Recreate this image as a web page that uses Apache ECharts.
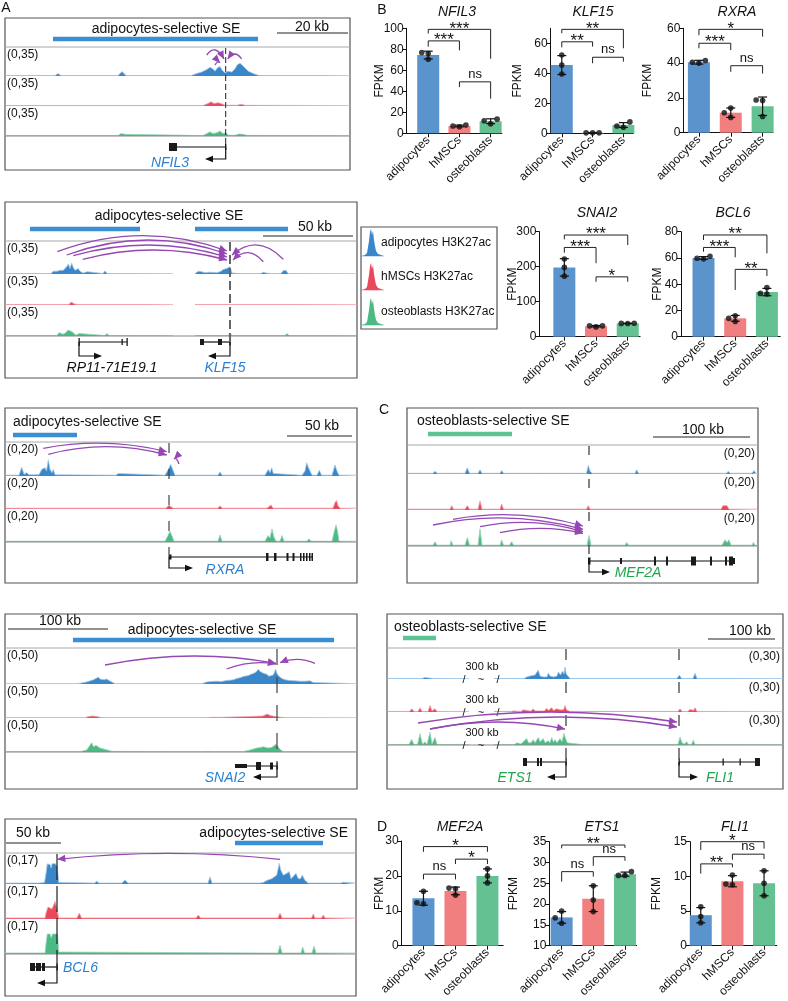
<!DOCTYPE html>
<html><head><meta charset="utf-8">
<script src="https://cdn.jsdelivr.net/npm/echarts@6.0.0/dist/echarts.min.js"></script>
<style>html,body{margin:0;padding:0;background:#fff}#c{width:788px;height:1001px}</style>
</head><body><div id="c"></div><script>
const FONT = '"Liberation Sans", Arial, Helvetica, sans-serif';
const CATS = ['adipocytes', 'hMSCs', 'osteoblasts'];
const BAR_COLORS = ['#5b93cd', '#f27f80', '#64c192'];

// ---------- bar chart data (FPKM) ----------
const NFIL3_MEAN = [74.5, 7, 11.5], NFIL3_SD = [3.7, 0.8, 2.3];
const NFIL3_DOTS = [[70.5, 76, 77], [6.2, 7, 7.8], [9, 12, 13.5]];
const NFIL3_SIG = [[0, 1, 88, 82.5, 79, '***'], [0, 2, 99, 95, 71, '***'], [1, 2, 49, 44, 33, 'ns']];
const NFIL3_TICKS = [0, 20, 40, 60, 80, 100];

const KLF15_MEAN = [45.5, 0.3, 5.5], KLF15_SD = [6.3, 0.1, 1.6];
const KLF15_DOTS = [[39.5, 45.5, 52.2], [0.3, 0.3, 0.3], [4, 4.9, 7.6]];
const KLF15_SIG = [[0, 1, 61, 57.3, 57.8, '**'], [0, 2, 69.3, 66.7, 56.7, '**'], [1, 2, 50.7, 46.7, 47.8, 'ns']];
const KLF15_TICKS = [0, 20, 40, 60];

const RXRA_MEAN = [40.5, 11.5, 15.2], RXRA_SD = [1.1, 2.7, 5.3];
const RXRA_DOTS = [[40, 40.5, 41.5], [8.8, 11.5, 14.2], [9.3, 18.5, 18.8]];
const RXRA_SIG = [[0, 1, 51.4, 48.5, 47.5, '***'], [0, 2, 59.4, 56, 55.2, '*'], [1, 2, 38.5, 35, 34, 'ns']];
const RXRA_TICKS = [0, 20, 40, 60];

const SNAI2_MEAN = [198, 30, 38], SNAI2_SD = [25, 2, 0.6];
const SNAI2_DOTS = [[173, 198, 222], [28, 31, 31], [37.8, 38, 38.4]];
const SNAI2_SIG = [[0, 1, 255, 240, 210, '***'], [0, 2, 290.5, 278, 262, '***'], [1, 2, 171, 157, 157, '*']];
const SNAI2_TICKS = [0, 100, 200, 300];

const BCL6_MEAN = [60, 14, 34], BCL6_SD = [1, 2.2, 2.8];
const BCL6_DOTS = [[59.3, 59.8, 61.3], [11.6, 14, 16], [32.5, 33, 37.5]];
const BCL6_SIG = [[0, 1, 68, 64.8, 60.5, '***'], [0, 2, 77.5, 73.7, 63.5, '**'], [1, 2, 51.3, 35.6, 46.2, '**']];
const BCL6_TICKS = [0, 20, 40, 60, 80];

const MEF2A_MEAN = [13.6, 15.7, 20], MEF2A_SD = [2, 1.1, 2];
const MEF2A_DOTS = [[12, 12.3, 15.6], [14.5, 16.3, 16.5], [18, 20, 22]];
const MEF2A_SIG = [[0, 1, 20.5, 19, 19, 'ns'], [1, 2, 24.8, 23.4, 23.4, '*'], [0, 2, 28.4, 26.9, 26.9, '*']];
const MEF2A_TICKS = [0, 10, 20, 30];

const ETS1_MEAN = [16.8, 21.3, 27.2], ETS1_SD = [1.4, 3.1, 0.5];
const ETS1_DOTS = [[15.4, 16.7, 18.3], [18.2, 21, 24.4], [26.9, 26.9, 27.8]];
const ETS1_SIG = [[0, 1, 27.8, 25.4, 26.6, 'ns'], [1, 2, 31.4, 29.2, 30.4, 'ns'], [0, 2, 34.2, 33.4, 33.5, '**']];
const ETS1_TICKS = [10, 15, 20, 25, 30, 35];

const FLI1_MEAN = [4.4, 9.3, 9], FLI1_SD = [1.1, 0.8, 1.8];
const FLI1_DOTS = [[3.3, 4.2, 5.6], [8.8, 8.9, 10.2], [7.2, 9, 10.8]];
const FLI1_SIG = [[0, 1, 11.8, 10.4, 11.3, '**'], [1, 2, 13.2, 12.4, 12.5, 'ns'], [0, 2, 15, 13.8, 14, '*']];
const FLI1_TICKS = [0, 5, 10, 15];

// ---------- H3K27ac signal tracks [position, signal] ----------
const A1_BLUE = [[0,0.5],[50,0.5],[53,3],[56,0.5],[113,0.5],[117,5.5],[121,0.5],[186,0.5],[191.7,3],[196.7,5],[201.7,8],[205,11],[207.7,9],[210,6],[212.3,10],[215,12],[217.3,7],[220,4],[223.3,6],[226.7,5],[230,9],[232.3,14],[235,16],[237.7,13],[240,10],[243.3,6],[248.3,3],[253.3,0.8],[258,0.5],[276,0.5],[278,1.5],[280,0.5],[320,0.5],[322,1.2],[324,0.5],[345,0.5]];
const A1_RED = [[0,0.5],[115,0.5],[117,2.5],[119,0.5],[198,0.5],[203,3],[206,5],[209,3],[213,4],[216,3],[220,1],[232,0.8],[236,2],[240,0.8],[345,0.5]];
const A1_GREEN = [[0,0.5],[55,0.5],[57,1.2],[59,0.5],[113,0.5],[116,3],[118,5],[120,2],[122,0.5],[198,0.5],[202,3],[205,5],[208,3],[212,4],[215,6],[218,3],[221,4],[223,1],[230,0.8],[234,2.5],[238,2],[242,0.8],[300,0.5],[302,1],[304,0.5],[345,0.5]];

const A2_BLUE = [[0,0.5],[23,0.5],[25,1.5],[27,0.5],[46,0.5],[48.3,3],[50,5],[52,3],[53.3,1.5],[55,4],[57,2],[58.3,4],[60,2],[61.7,8],[63.3,11],[65,6],[66.7,12],[68.3,7],[70,4],[72,2.5],[73.3,6],[75,3],[78,1],[80,3],[82.3,2.5],[84,0.5],[98,0.5],[100,3.5],[102,0.5],[128,0.5],[130,1.5],[132,0.5],[168,0.5],[170,'-'],[188,'-'],[190,0.5],[193.3,3],[196.7,2.5],[200,1.5],[205,2],[212,1.5],[216,3],[218.3,5],[220,3],[221.7,6],[223,4],[225,8],[227,1],[235,0.5],[256,0.5],[258.3,2],[261,1],[266,0.5],[276,0.5],[278,3.5],[279.5,1.5],[281,4],[283,0.5],[352,0.5]];
const A2_RED = [[0,0.5],[54,0.5],[55,2.5],[57,0.5],[64,0.5],[66,3.5],[68,2],[70,1],[72,2],[74,0.5],[132,0.5],[134,2],[136,0.5],[168,0.5],[170,'-'],[188,'-'],[190,0.5],[224,0.5],[225.5,2],[227,0.5],[280,0.5],[282,1.5],[284,0.5],[352,0.5]];
const A2_GREEN = [[0,0.5],[52,0.5],[54,4],[56,6],[58,2],[61,4],[63,7],[65,9],[67,5],[69,3],[71,1],[74,3],[76,1],[100,0.5],[102,3],[104,0.5],[130,0.5],[132,2],[134,0.5],[168,0.5],[170,'-'],[188,'-'],[190,0.5],[223,0.5],[225,3],[227,0.5],[280,0.5],[282,3],[284,0.5],[352,0.5]];

const A3_BLUE = [[0,0.5],[14,0.5],[16.7,5.3],[19,1],[21.7,2],[24,0.7],[34,0.8],[36.7,4],[38.5,3],[40,5],[41.5,3],[43.3,9.8],[45,4],[47,2],[48.3,4],[50,0.7],[111,0.5],[113.3,1.5],[115,0.5],[160,0.5],[163.3,4],[165.7,7],[168.3,3],[170,0.5],[213,0.5],[215,2.5],[217,0.5],[260,0.5],[263.3,4],[265,2],[266.7,5],[268.3,1.5],[270,0.5],[297,0.5],[300,3],[301.7,8],[303.5,5],[305,3],[307,0.5],[312,0.5],[314.3,3.5],[316.5,0.5],[327,0.5],[330,6.7],[332,3],[334,0.5],[352,0.5]];
const A3_RED = [[0,0.5],[161,0.5],[164,2.3],[166,1.5],[168,0.5],[213,0.5],[215,2],[217,0.5],[262,0.5],[264,1.5],[266,2.5],[268,0.5],[276,0.5],[277.5,1.5],[279,0.5],[328,0.5],[330,4],[331.5,5.3],[333,2],[335,0.5],[352,0.5]];
const A3_GREEN = [[0,0.5],[160,0.5],[163,4],[165,6.7],[167.5,3],[169,0.5],[213,0.5],[215,4.3],[217,0.5],[260,0.5],[263,4],[265,2.5],[267,8.2],[269,3],[271,0.5],[275,0.5],[277,4],[279,0.5],[302,0.5],[304,2],[306,0.5],[327,0.5],[329,6],[331,10.6],[332.5,7],[334,0.5],[352,0.5]];

const A4_BLUE = [[0,0.5],[72,0.5],[75,1],[81.7,3],[88.3,6],[91,8],[93.3,10],[95,7],[96.7,8],[99,6],[101.7,7],[104,5],[106.7,3],[110,0.5],[195,0.5],[198.3,1],[201.7,3],[206,3.5],[211.7,4],[216,3.5],[221.7,5],[225,5.5],[228.3,6],[232,8],[235,9],[239,11],[243.3,12],[246,14],[248.3,15],[251,17],[253.3,21],[255,18],[256.7,17],[259,15],[261.7,14],[264,11],[265.7,10],[268.3,13],[270.7,21],[272,15],[273.3,12],[276.7,8],[280,6],[285,5],[290,4.5],[295,4],[300,4],[305,4.5],[308.3,2],[310,0.5],[352,0.5]];
const A4_RED = [[0,0.5],[80,0.5],[83,2],[87,3],[91,2.5],[95,1],[100,0.5],[200,0.5],[206,1],[215,1],[228,1.5],[240,2],[250,2.5],[258,3],[262,6],[266,3.5],[268,4],[272,2],[276,1],[282,0.5],[352,0.5]];
const A4_GREEN = [[0,0.5],[55,0.5],[57,1],[59,0.5],[75,0.5],[81.7,3],[86.7,14],[88.5,8],[91,10],[95,6],[100,4],[101.7,3],[106.7,1],[108,0.5],[200,0.5],[203,1],[206,0.5],[238,0.5],[245,3],[251.7,6],[256,7],[258.3,8],[263,6],[266.7,7],[270.7,11.6],[273,8],[275,4],[278.3,0.5],[305,0.5],[307,1],[309,0.5],[352,0.5]];

const A5_BLUE = [[0,0.5],[20,0.5],[21.7,1],[23.5,0.5],[30,0.5],[32,0.8],[34,0.5],[39.5,0.8],[41,6],[42.3,11.4],[45,11],[46.2,9],[47,11.4],[50,11.6],[52.3,10],[53.7,0.8],[89.5,0.5],[91.7,1.5],[94,0.5],[117,0.5],[120,2.2],[123,0.5],[203,0.5],[205,4],[207,0.5],[255,0.5],[258.3,0.8],[261.7,2],[266.7,3],[271.7,5],[274.3,11.7],[275.7,8],[278.3,5],[281.7,6],[284.3,7],[286,3],[287.7,4],[291,6],[293.3,3],[295.5,3],[297.3,5],[300,2],[303.3,0.5],[336,0.5],[338.3,1],[340,0.5],[351,0.5]];
const A5_RED = [[0,0.5],[40,0.5],[41,3],[43,6],[45,6.6],[47,5],[49,6],[50,8.8],[51.5,6],[53.7,0.5],[72,0.5],[74.3,3],[76.5,0.5],[191,0.5],[193.3,2],[195.5,0.5],[273,0.5],[275,3],[277,0.5],[283.5,0.5],[285,1.5],[286.5,0.5],[306.5,0.5],[308.3,2.5],[310,0.5],[316.5,0.5],[318.3,2],[320,0.5],[351,0.5]];
const A5_GREEN = [[0,0.5],[40,0.5],[41,5],[42.3,10],[45,10],[46.2,8],[47.5,10],[50,10],[52.5,10],[53.7,1],[55,0.5],[260,0.5],[262,1],[264,0.5],[273,0.5],[275,4.4],[277,0.5],[296,0.5],[297.7,3.5],[299.5,0.5],[307,0.5],[309,4],[311,0.5],[351,0.5]];

const C1_BLUE = [[0,0.5],[26,0.5],[28,2],[30,0.5],[43,0.5],[44.7,1],[46.5,0.5],[58,0.5],[60.3,4.4],[62.5,0.5],[71,0.5],[73,3],[75,0.5],[93,0.5],[94.7,2.5],[96.5,0.5],[104.5,0.5],[106.3,1],[108,0.5],[134.5,0.5],[136.3,1],[138,0.5],[153,0.5],[154.7,1],[156.5,0.5],[169.5,0.5],[171.3,1.5],[173,0.5],[179.5,0.5],[181.3,6.2],[183,2],[185,0.5],[218,0.5],[219.7,1.5],[221.5,0.5],[228,0.5],[229.7,3],[231.5,0.5],[251,0.5],[253,1],[255,0.5],[319.5,0.5],[321.3,2],[323,0.5],[345,0.5],[347,2.5],[349,0.5],[351,0.5]];
const C1_RED = [[0,0.5],[26,0.5],[28,1],[30,0.5],[43,0.5],[44.7,2.5],[46.5,0.5],[58,0.5],[60.3,2.5],[62.5,0.5],[71,0.5],[73,5.2],[75,0.5],[93,0.5],[94.7,3.5],[96.5,0.5],[104.5,0.5],[106.3,1],[108,0.5],[134.5,0.5],[136.3,1],[138,0.5],[179.5,0.5],[181.3,2.5],[183,0.5],[218,0.5],[219.7,1],[221.5,0.5],[228,0.5],[229.7,1.5],[231.5,0.5],[314,0.5],[316,2.5],[318,1.5],[320,2.5],[322,0.5],[351,0.5]];
const C1_GREEN = [[0,0.5],[26,0.5],[28,2.4],[30,0.5],[43,0.5],[44,3],[46,0.5],[58,0.5],[60.3,4.8],[62.5,0.5],[71,0.5],[73,9.8],[75,0.5],[93,0.5],[94.7,3.5],[96.5,0.5],[102.5,0.5],[104.7,2.5],[106.5,0.5],[151,0.5],[153,1],[155,0.5],[180,0.5],[182,6],[184,0.5],[218,0.5],[219.7,2],[221.5,0.5],[315,0.5],[318,3.5],[320,2],[322,3.5],[324,0.5],[345,0.5],[346.3,2],[348,0.5],[351,0.5]];

const C2_BLUE = [[0,0.5],[21,0.5],[23,1.5],[25,0.5],[31,0.5],[33,2],[35,0.5],[36,0.5],[38,1.5],[40,0.5],[46,0.5],[48,1],[50,0.5],[82,0.5],[83,'-'],[106,'-'],[107,0.5],[118,0.5],[120,1],[122,0.5],[128,0.5],[129.7,1.5],[131.5,0.5],[137,0.5],[139.7,2],[141,1],[143,3],[145,1.5],[148,4],[149.5,2],[151.3,9],[153,3],[154.7,5],[156.5,2],[158,4],[160,2],[161.3,6],[163,3],[164.7,5],[166.5,2],[168,4],[170,3],[171.3,7],[173.5,4],[175.7,8],[177,5],[178,12],[179.2,5],[180.3,3],[183,0.5],[195,0.5],[196.3,1],[198,0.5],[215,0.5],[216.3,1],[218,0.5],[248,0.5],[249.7,1],[251.5,0.5],[290,0.5],[292.3,4],[294.5,0.5],[299.5,0.5],[301.3,1.5],[303,0.5],[306,0.5],[308,5.8],[310,0.5],[314.5,0.5],[316.3,1],[318,0.5],[348,0.5],[349.7,1],[351.5,0.5],[396,0.5]];
const C2_RED = [[0,0.5],[22.5,0.5],[24.7,3],[27,0.5],[31,0.5],[33,4],[35,0.5],[41,0.5],[43,6],[45,1],[48,3],[50,0.5],[82,0.5],[83,'-'],[106,'-'],[107,0.5],[124,0.5],[126.3,1],[128,0.5],[134,0.5],[136.3,2],[138,0.7],[144,0.8],[146.3,3],[148,1],[151,1],[153,2.5],[155,1],[157.5,1],[159.7,3.5],[161.5,1.5],[163,2],[164.7,4],[166.5,1.5],[168,2],[169.7,3],[171.5,1.5],[173,2],[174.7,3.5],[176.5,2],[178,6],[179.5,2],[181.3,1],[183,0.5],[291,0.5],[293,3],[295,0.5],[301,0.5],[303,2.5],[305,1],[306.5,1.5],[308,4],[310,0.5],[396,0.5]];
const C2_GREEN = [[0,0.5],[22,0.5],[24.7,5.2],[27,0.5],[30.5,0.5],[33,10.6],[35.5,0.5],[36,0.5],[38,3],[40,0.5],[41,0.5],[43,12],[45,1],[46.5,1],[48,7],[50,0.5],[69.5,0.5],[71.3,1],[73,0.5],[82,0.5],[83,'-'],[106,'-'],[107,0.5],[127.5,0.5],[129.7,2],[131.5,0.5],[134,1],[136.3,3],[138,1.5],[139.7,6],[141.5,2],[144,2],[146.3,5],[148,2],[149.5,2],[151.3,7],[153,3],[154.5,3],[156.3,6],[158,2],[159.5,2],[161.3,4],[163,2],[164.7,7],[166.5,2.5],[168,5],[170,2],[171.5,3],[173,6],[175,3],[177,11],[178.5,6],[180.3,2],[182,0.5],[194.5,0.5],[196.3,1],[198,0.5],[248,0.5],[249.7,2],[251.5,0.5],[291,0.5],[293,7.5],[295,2],[297.5,1],[299.7,3],[301.5,0.5],[304.5,0.5],[306.3,4.5],[308,0.5],[314.5,0.5],[316.3,1],[318,0.5],[396,0.5]];

// super-enhancer regions, scale bars, genes, loops (positions along each locus)
const SE_REGIONS = {A1:[[48,253]], A2:[[25,135],[190,283]], A3:[[8,72]], A4:[[68,329]], A5:[[230,318]], C1:[[21,105]], C2:[[16,49]]};
const SCALE_BARS = {A1:[272,343,'20 kb'], A2:[258,348,'50 kb'], A3:[282,347,'50 kb'], A4:[3,103,'100 kb'], A5:[1,56,'50 kb'], C1:[246,343,'100 kb'], C2:[321,388,'100 kb']};
const TRACK_MAX = {A1:35, A2:35, A3:20, A4:50, A5:17, C1:20, C2:30};
const GENES = [
 {panel:'A1', name:'NFIL3', c:'blue', tss:220.7, end:167, exons:[[164,172,8],[220,221.4,6]], arrowTo:200, text:165},
 {panel:'A2', name:'KLF15', c:'blue', tss:225, end:195, exons:[[195,199,6],[213,217,6],[224.3,225.7,7]], arrowTo:203, text:220},
 {panel:'A2', name:'RP11-71E19.1', c:'black', tss:74, end:122, exons:[[73.5,74.5,8],[116.5,117.5,6],[121.5,122.5,8]], arrowTo:97, text:107, noLine:true},
 {panel:'A3', name:'RXRA', c:'blue', tss:164, end:308, exons:[[164,166.5,5],[261,263.5,8],[269,271.5,8],[281.5,283.5,8],[287.5,289.5,8],[295,296.5,8],[298,299.5,8],[301,302.5,8],[304,305.5,8],[306.5,308,8]], arrowTo:188, text:220},
 {panel:'A4', name:'SNAI2', c:'blue', tss:272, end:230, exons:[[230,242,4],[251,256,8],[265,268,7],[271.5,272.5,7]], arrowTo:248, text:220},
 {panel:'A5', name:'BCL6', c:'blue', tss:52, end:25, exons:[[25,30,8],[31,36,8],[37,40,8],[51.5,52.5,7]], arrowTo:32, text:58, align:'left'},
 {panel:'C1', name:'MEF2A', c:'green', tss:182, end:328, exons:[[181,183.5,7],[213,215,6],[247,249,9],[259,261,9],[284,289,9],[303,305,9],[318,320,9],[322,326,9],[326,328,6]], arrowTo:203, text:231},
 {panel:'C2', name:'ETS1', c:'green', tss:179, end:136, exons:[[136,140,8],[150,152,8],[153,155,8],[178.5,179.5,7]], arrowTo:160, text:128},
 {panel:'C2', name:'FLI1', c:'green', tss:292, end:373, exons:[[291.5,292.5,7],[335.5,336.5,7],[352.5,353.5,7],[368,373,8]], arrowTo:311, text:333}
];
// loops: [from, to, yFrom, yTo, apex] (y relative to the header line)
const LOOPS = {
 A1:[[201.7,219,8,12,3],[236.7,222.7,12,12,7],[210,215,18,15.7,15]],
 A2:[[52.3,222,10.7,10,-5.3],[61.7,222,14,13,-1],[68.3,222,14.7,16,4],[77.7,222,18.3,19,9],[278.3,227,18.3,14,4],[258.3,228,20.7,19,11.7]],
 A3:[[38.3,161.7,6.3,9.7,1.3],[43.3,161.7,12.3,13,4.7],[174,169,22,17,17]],
 A4:[[100,271,17,15.3,8],[221.7,271,21,16,15],[310,275,15.3,14.7,11.3]],
 A5:[[275,52.3,6.3,6.3,0.3]],
 C1:[[46,176,74.3,81,70],[26,176,80,84.3,73],[73,176,81.7,86.7,77.7],[93,176,87.7,88.3,83.3]],
 C2:[[31,290,75,74,64],[43,290,81,79,69],[43,178,81,81,74]]
};

// ---------- layout / styles ----------
const TRACK_COL = {blue:'#3987c9', red:'#e9495b', green:'#4cba84'};
const TRACK_LIGHT = {blue:'#9fc6ea', red:'#f2a0aa', green:'#9ad6b7'};
const GENE_COL = {blue:'#2b80d2', green:'#1fa64b', black:'#111'};
const PURPLE = '#9547b3';
const PANELS = {
 A1:{box:[5,18,350,170], header:47, tracks:[[47,76],[76,106],[106,136]], gene:[147,159,163], dash:[6,3], dashC:'#222', dashW:1, title:[166,29,'center'], seY:39, seC:'#3b8ed3', scY:33, scT:[312,27,'center'], data:[A1_BLUE,A1_RED,A1_GREEN]},
 A2:{box:[5,202,357,378], header:241, tracks:[[241,274],[274,305],[305,336]], gene:[342,356,368], dash:[9,4], dashC:'#666', dashW:2, title:[169,216,'center'], seY:229, seC:'#3b8ed3', scY:236, scT:[315,227,'center'], data:[A2_BLUE,A2_RED,A2_GREEN]},
 A3:{box:[5,408,357,583], header:442, tracks:[[442,476],[476,509],[509,542]], gene:[557,568,570], dash:[10,16], dashC:'#444', dashW:1.2, title:[13,422,'left'], seY:435, seC:'#3b8ed3', scY:436, scT:[322,426,'center'], data:[A3_BLUE,A3_RED,A3_GREEN]},
 A4:{box:[5,614,357,789], header:648, tracks:[[648,684],[684,718],[718,752]], gene:[766,777,778], dash:[16,12], dashC:'#444', dashW:1.2, title:[202,630,'center'], seY:640, seC:'#3b8ed3', scY:629, scT:[60,621,'center'], data:[A4_BLUE,A4_RED,A4_GREEN]},
 A5:{box:[5,819,356,996], header:853, tracks:[[853,884],[884,919],[919,954]], gene:[967,983,968], dash:[26,6], dashC:'#222', dashW:1.2, title:[348,833,'right'], seY:843, seC:'#3b8ed3', scY:843, scT:[33,833,'center'], data:[A5_BLUE,A5_RED,A5_GREEN]},
 C1:{box:[407,408,758,583], header:445, tracks:[[445,474],[474,510],[510,546]], gene:[561,572,573], dash:[9,24], dashC:'#333', dashW:1.2, title:[417,421,'left'], seY:434, seC:'#5cc493', scY:437, scT:[703,430,'center'], labelRight:true, data:[C1_BLUE,C1_RED,C1_GREEN]},
 C2:{box:[387,614,783,789], header:648, tracks:[[648,679],[679,712],[712,745]], gene:[762,777,778], dash:[11,22], dashC:'#333', dashW:1.2, title:[394,627,'left'], seY:638, seC:'#5cc493', scY:639, scT:[750,631,'center'], labelRight:true, breakAt:95, data:[C2_BLUE,C2_RED,C2_GREEN]}
};
const SE_TITLES = {A1:'adipocytes-selective SE', A2:'adipocytes-selective SE', A3:'adipocytes-selective SE', A4:'adipocytes-selective SE', A5:'adipocytes-selective SE', C1:'osteoblasts-selective SE', C2:'osteoblasts-selective SE'};

const BAR_CHARTS = [
 {g:'NFIL3', mean:NFIL3_MEAN, sd:NFIL3_SD, dots:NFIL3_DOTS, sig:NFIL3_SIG, yMin:0, yMax:100, ticks:NFIL3_TICKS, L:{left:406.7, top:28.3, height:105, sp:31.2, offs:0.69, tail:0.36, tx:457, ty:12, gap:21}},
 {g:'KLF15', mean:KLF15_MEAN, sd:KLF15_SD, dots:KLF15_DOTS, sig:KLF15_SIG, yMin:0, yMax:70, ticks:KLF15_TICKS, L:{left:550.7, top:28.3, height:105, sp:30.8, offs:0.36, tail:0.32, tx:593, ty:12, gap:27}},
 {g:'RXRA', mean:RXRA_MEAN, sd:RXRA_SD, dots:RXRA_DOTS, sig:RXRA_SIG, yMin:0, yMax:60, ticks:RXRA_TICKS, L:{left:683.3, top:28.3, height:104.4, sp:31.85, offs:0.49, tail:0.33, tx:737, ty:12, gap:30}},
 {g:'SNAI2', mean:SNAI2_MEAN, sd:SNAI2_SD, dots:SNAI2_DOTS, sig:SNAI2_SIG, yMin:0, yMax:300, ticks:SNAI2_TICKS, L:{left:539.3, top:231.7, height:105, sp:31.7, offs:0.79, tail:0.39, tx:597, ty:213, gap:21}},
 {g:'BCL6', mean:BCL6_MEAN, sd:BCL6_SD, dots:BCL6_DOTS, sig:BCL6_SIG, yMin:0, yMax:80, ticks:BCL6_TICKS, L:{left:681, top:231.7, height:105, sp:31.7, offs:0.71, tail:0.42, tx:733, ty:213, gap:17}},
 {g:'MEF2A', mean:MEF2A_MEAN, sd:MEF2A_SD, dots:MEF2A_DOTS, sig:MEF2A_SIG, yMin:0, yMax:30, ticks:MEF2A_TICKS, L:{left:401.7, top:841, height:104.7, sp:32, offs:0.68, tail:0.49, tx:460, ty:827, gap:16}},
 {g:'ETS1', mean:ETS1_MEAN, sd:ETS1_SD, dots:ETS1_DOTS, sig:ETS1_SIG, yMin:10, yMax:35, ticks:ETS1_TICKS, L:{left:549.3, top:841.7, height:104, sp:31.65, offs:0.39, tail:0.37, tx:602, ty:827, gap:30}},
 {g:'FLI1', mean:FLI1_MEAN, sd:FLI1_SD, dots:FLI1_DOTS, sig:FLI1_SIG, yMin:0, yMax:15, ticks:FLI1_TICKS, L:{left:690, top:841.7, height:104, sp:31.65, offs:0.34, tail:0.4, tx:735, ty:827, gap:27}}
];

const chart = echarts.init(document.getElementById('c'), null, {width:788, height:1001});
const grids = [], xAxes = [], yAxes = [], series = [];
const T = [];

function jitter(vals, ppu) {
  const d = 5.6, step = 6.5, placed = [], out = vals.map(() => 0);
  vals.map((v, i) => i).sort((a, b) => vals[a] - vals[b]).forEach(i => {
    for (const c of [0, -step, step, -2 * step, 2 * step]) {
      if (placed.every(p => Math.abs(p.x - c) >= d || Math.abs(p.y - vals[i]) * ppu >= d)) { out[i] = c; placed.push({x: c, y: vals[i]}); break; }
    }
  });
  return out;
}
function txt(t, x, y, font, fill, align, va, z) {
  return {type:'text', x, y, z: z || 15, style:{text:t, font, fill: fill || '#111', align: align || 'center', verticalAlign: va || 'middle'}};
}

BAR_CHARTS.forEach(bc => {
  const L = bc.L, xMax = L.offs + 2 + L.tail, gi = grids.length;
  const pos = i => L.offs + i, posVals = CATS.map((c, i) => pos(i));
  grids.push({left:L.left, top:L.top, width:xMax * L.sp, height:L.height});
  xAxes.push({gridIndex:gi, type:'value', min:0, max:xMax, splitLine:{show:false},
    axisLine:{show:true, onZero:false, lineStyle:{color:'#111', width:1}},
    axisTick:{show:true, customValues:posVals, length:4, lineStyle:{color:'#111'}},
    axisLabel:{customValues:posVals, rotate:45, margin:5, fontSize:12, fontFamily:FONT, color:'#111', formatter: v => CATS[Math.round(v - L.offs)]}});
  yAxes.push({gridIndex:gi, type:'value', min:bc.yMin, max:bc.yMax, name:'FPKM', nameLocation:'middle', nameGap:L.gap, nameMoveOverlap:false,
    nameTextStyle:{fontSize:12, fontFamily:FONT, color:'#111'}, splitLine:{show:false},
    axisLine:{show:true, onZero:false, lineStyle:{color:'#111', width:1}},
    axisTick:{show:true, customValues:bc.ticks, length:4, lineStyle:{color:'#111'}},
    axisLabel:{customValues:bc.ticks, fontSize:12, fontFamily:FONT, color:'#111', margin:3}});
  series.push({type:'bar', xAxisIndex:gi, yAxisIndex:gi, barWidth:22, silent:true,
    data: bc.mean.map((m, i) => ({value:[pos(i), m], itemStyle:{color:BAR_COLORS[i]}}))});
  series.push({type:'custom', xAxisIndex:gi, yAxisIndex:gi, clip:false, silent:true, z:4,
    data: bc.mean.map((m, i) => [pos(i), m - bc.sd[i], m + bc.sd[i]]),
    renderItem: (p, api) => {
      const lo = api.coord([api.value(0), api.value(1)]), hi = api.coord([api.value(0), api.value(2)]), w = 4.5;
      const st = {stroke:'#111', lineWidth:1.2};
      return {type:'group', children:[
        {type:'line', shape:{x1:lo[0], y1:lo[1], x2:hi[0], y2:hi[1]}, style:st},
        {type:'line', shape:{x1:lo[0]-w, y1:lo[1], x2:lo[0]+w, y2:lo[1]}, style:st},
        {type:'line', shape:{x1:hi[0]-w, y1:hi[1], x2:hi[0]+w, y2:hi[1]}, style:st}]};
    }});
  const ppu = L.height / (bc.yMax - bc.yMin), dotData = [];
  bc.dots.forEach((vals, i) => { const off = jitter(vals, ppu); vals.forEach((v, j) => dotData.push({value:[pos(i), v], symbolOffset:[off[j], 0]})); });
  series.push({type:'scatter', xAxisIndex:gi, yAxisIndex:gi, symbolSize:5.6, itemStyle:{color:'#111'}, z:6, silent:true, data:dotData});
  const labels = bc.sig.map(s => s[5]);
  series.push({type:'custom', xAxisIndex:gi, yAxisIndex:gi, clip:false, silent:true, z:5,
    data: bc.sig.map(s => [pos(s[0]), pos(s[1]), s[2], s[3], s[4]]),
    renderItem: (p, api) => {
      const x1 = api.value(0), x2 = api.value(1), t = api.value(2);
      const a = api.coord([x1, api.value(3)]), b = api.coord([x1, t]), c = api.coord([x2, t]), d = api.coord([x2, api.value(4)]);
      const lab = labels[p.dataIndex], star = lab.indexOf('*') >= 0;
      return {type:'group', children:[
        {type:'polyline', shape:{points:[a, b, c, d]}, style:{stroke:'#222', lineWidth:1, fill:null}},
        {type:'text', style:{text:lab, x:(b[0]+c[0])/2, y: star ? b[1] + 8 : b[1] - 1, align:'center', verticalAlign:'bottom',
          font: (star ? '17px ' : '13px ') + FONT, fill:'#111'}}]};
    }});
  T.push(txt(bc.g, L.tx, L.ty, 'italic 14px ' + FONT));
});

const cols = ['blue', 'red', 'green'];
Object.keys(PANELS).forEach(k => {
  const P = PANELS[k], b = P.box, W = b[2] - b[0];
  P.tracks.forEach((tr, ti) => {
    const gi = grids.length;
    if (ti === 0) P.axis = gi;
    grids.push({left:b[0], top:tr[0] + 1, width:W, height:tr[1] - tr[0] - 1});
    xAxes.push({gridIndex:gi, type:'value', min:0, max:W, show:false});
    yAxes.push({gridIndex:gi, type:'value', min:0, max:TRACK_MAX[k], show:false});
    series.push({type:'line', xAxisIndex:gi, yAxisIndex:gi, data:P.data[ti], symbol:'none', silent:true, connectNulls:false,
      lineStyle:{width:0.8, color:TRACK_LIGHT[cols[ti]]}, areaStyle:{color:TRACK_COL[cols[ti]], opacity:1}, z:3});
  });
});

chart.setOption({animation:false, textStyle:{fontFamily:FONT}, grid:grids, xAxis:xAxes, yAxis:yAxes, series});

const G = T.slice();
const px = (k, v) => chart.convertToPixel({xAxisIndex:PANELS[k].axis}, v);
const ln = (x1, y1, x2, y2, stroke, w, dash, z) => ({type:'line', z: z || 10, shape:{x1, y1, x2, y2}, style:{stroke, lineWidth:w || 1, lineDash:dash || null}});

Object.keys(PANELS).forEach(k => {
  const P = PANELS[k], b = P.box;
  G.push({type:'rect', z:1, shape:{x:b[0], y:b[1], width:b[2]-b[0], height:b[3]-b[1]}, style:{fill:'transparent', stroke:'#555', lineWidth:1.2}});
  G.push(ln(b[0], P.header, b[2], P.header, '#a8a8a8', 1, null, 1));
  G.push(ln(b[0], P.tracks[2][1], b[2], P.tracks[2][1], '#8a8a8a', 1.2, null, 4));
  G.push(txt(SE_TITLES[k], P.title[0], P.title[1], '14px ' + FONT, '#111', P.title[2]));
  SE_REGIONS[k].forEach(([s, e]) => { const a = px(k, s), c = px(k, e); G.push({type:'rect', z:5, shape:{x:a, y:P.seY - 2.2, width:c - a, height:4.4}, style:{fill:P.seC}}); });
  const sc = SCALE_BARS[k];
  G.push(ln(px(k, sc[0]), P.scY, px(k, sc[1]), P.scY, '#222', 1));
  G.push(txt(sc[2], P.scT[0], P.scT[1], '14px ' + FONT, '#111', P.scT[2]));
  P.tracks.forEach(tr => {
    const lab = '(0,' + TRACK_MAX[k] + ')';
    if (P.labelRight) G.push(txt(lab, b[2] - 3, tr[0] + 9, '12px ' + FONT, '#111', 'right'));
    else G.push(txt(lab, b[0] + 2, tr[0] + 8, '12px ' + FONT, '#111', 'left'));
    if (P.breakAt) {
      const bx = px(k, P.breakAt);
      G.push(txt('300 kb', bx, tr[1] - 12, '11px ' + FONT, '#111', 'center'));
      G.push(txt('/    ~    /', bx - 1, tr[1] + 1, '11px ' + FONT, '#111', 'center'));
    }
  });
  (LOOPS[k] || []).forEach(([x0, x1, y0, y1, ap]) => {
    const X0 = px(k, x0), X1 = px(k, x1), Y0 = P.header + y0, Y1 = P.header + y1, A = P.header + ap;
    const cx = (X0 + X1) / 2, cy = (4 * A - Y0 - Y1) / 2;
    G.push({type:'bezierCurve', z:20, shape:{x1:X0, y1:Y0, x2:X1, y2:Y1, cpx1:cx, cpy1:cy}, style:{stroke:PURPLE, lineWidth:1.3, fill:null}});
    let dx = X1 - cx, dy = Y1 - cy; const len = Math.hypot(dx, dy) || 1; dx /= len; dy /= len;
    const bx = X1 - dx * 8, by = Y1 - dy * 8, w = 3.6;
    G.push({type:'polygon', z:21, shape:{points:[[X1, Y1], [bx - dy * w, by + dx * w], [bx + dy * w, by - dx * w]]}, style:{fill:PURPLE}});
  });
});

GENES.forEach(g => {
  const P = PANELS[g.panel], k = g.panel, [gy, ay, ty] = P.gene;
  const xt = px(k, g.tss), xe = px(k, g.end), xa = px(k, g.arrowTo);
  if (!g.noLine) G.push(ln(xt, P.header + 1, xt, gy, P.dashC, P.dashW, P.dash, 12));
  G.push(ln(Math.min(xt, xe), gy, Math.max(xt, xe), gy, '#111', 1.2));
  g.exons.forEach(([s, e, h]) => { const a = px(k, s), c = px(k, e); G.push({type:'rect', z:11, shape:{x:a, y:gy - h / 2, width:Math.max(c - a, 1.3), height:h}, style:{fill:'#1a1a1a'}}); });
  const dir = Math.sign(xa - xt);
  G.push({type:'polyline', z:11, shape:{points:[[xt, gy], [xt, ay], [xa - dir * 5, ay]]}, style:{stroke:'#111', lineWidth:1.2, fill:null}});
  G.push({type:'polygon', z:11, shape:{points:[[xa, ay], [xa - dir * 8, ay - 3.2], [xa - dir * 8, ay + 3.2]]}, style:{fill:'#111'}});
  G.push(txt(g.name, px(k, g.text), ty, 'italic 14px ' + FONT, GENE_COL[g.c], g.align || 'center'));
});

const ICON = [[0,0],[3,-1],[5,-3],[6,-9],[7,-15],[8,-24],[9,-27],[10,-21],[11,-25],[12,-16],[13,-10],[14,-5],[16,-2],[19,-1],[21,0]];
G.push({type:'rect', z:1, shape:{x:361, y:227, width:136, height:102}, style:{fill:'transparent', stroke:'#555', lineWidth:1.2}});
[['adipocytes H3K27ac', 256, 'blue'], ['hMSCs H3K27ac', 290, 'red'], ['osteoblasts H3K27ac', 325, 'green']].forEach(([t, base, c]) => {
  G.push(ln(362, base, 384, base, TRACK_LIGHT[c], 1));
  G.push({type:'polygon', z:12, shape:{points:ICON.map(p => [362 + p[0], base + p[1]])}, style:{fill:TRACK_COL[c]}});
  G.push(txt(t, 381, base - 13, '12px ' + FONT, '#111', 'left'));
});
[['A', 6, 8], ['B', 382, 10], ['C', 384, 410], ['D', 382, 827]].forEach(([t, x, y]) => G.push(txt(t, x, y, '14px ' + FONT)));

chart.setOption({graphic:{elements:G}});
</script></body></html>
